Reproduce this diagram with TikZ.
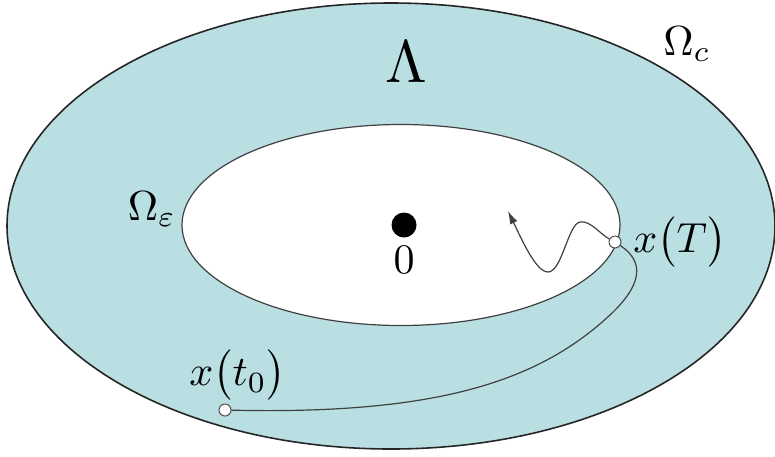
\documentclass[tikz,border=0pt]{standalone}
\usepackage{amsmath,amssymb}
\usetikzlibrary{positioning,shapes,arrows.meta}
\definecolor{annulus}{RGB}{185,223,226}
\newcommand{\ellOut}{(391,226) ellipse (384 and 223)}
\newcommand{\ellIn}{(401,225) ellipse (219 and 100.5)}
\tikzset{
  lbl/.style={inner sep=0.25pt,scale=4.2},
  endpt/.style={circle,draw=black!70,fill=white,line width=1pt,minimum size=12pt,inner sep=0pt},
  traj/.style={draw=black!75,line width=1.2pt}
}

\begin{document}
\begin{tikzpicture}[x=1pt,y=-1pt]
\useasboundingbox (0,0) rectangle (775,456);
\begin{scope}
\clip \ellOut;
\fill[annulus] (0,0) rectangle (775,456);
\end{scope}
\fill[white] \ellIn;
\draw[line width=1.6pt,black!85] \ellOut;
\draw[line width=1.2pt,black!75] \ellIn;
% origin and labels
\node[circle,fill=black,minimum size=25pt,inner sep=0pt] (origin) at (404,225) {};
\node[lbl,below=7pt of origin] (zero) {$0$};
\node[lbl,scale=6/4.2] (lam) at (406,62) {$\Lambda$};
\node[lbl] (omc) at (687,44) {$\Omega_c$};
\node[lbl] (ome) at (152,209) {$\Omega_\varepsilon$};
% trajectory
\node[endpt] (xT) at (615,242) {};
\node[endpt] (xt0) at (225,410) {};
\node[lbl,right=10pt of xT] (xTlbl) {$x\bigl(T\bigr)$};
\node[lbl,above=1pt of xt0,xshift=3pt] (xt0lbl) {$x\bigl(t_0\bigr)$};
\coordinate (tip) at (508,211);
\draw[traj] (xT) .. controls (645,262) and (642,285) .. (610,315)
  .. controls (540,380) and (440,415) .. (xt0);
\draw[traj,-{Latex[length=13pt,width=8pt]}] (xT) .. controls (600,234) and (590,220) .. (580,222)
  .. controls (568,224) and (562,272) .. (548,272)
  .. controls (536,272) and (522,240) .. (tip);
\end{tikzpicture}
\end{document}
